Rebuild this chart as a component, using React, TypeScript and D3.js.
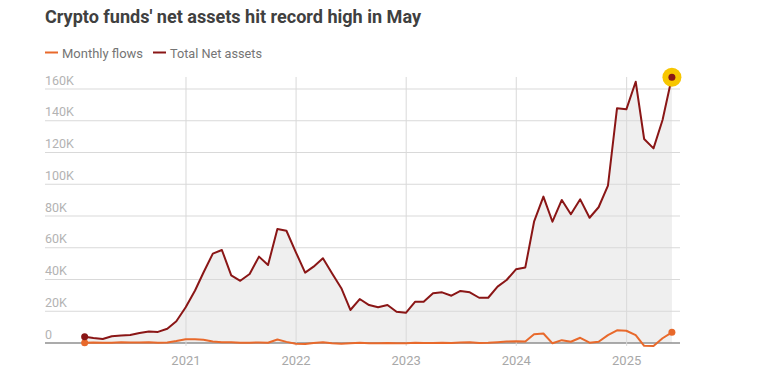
import React from "react";
import * as d3 from "d3";

// Monthly data, Jan 2020 – May 2025 (US$ millions)
const startYear = 2020;
const netAssets: number[] = [
  // 2020
  4000, 3200, 2500, 4200, 4700, 5000, 6300, 7300, 7000, 9000, 13700, 22500,
  // 2021
  33100, 44400, 56300, 58600, 42600, 39200, 43500, 54400, 49100, 71800, 70700, 57300,
  // 2022
  44300, 48100, 53400, 43900, 34500, 20800, 27700, 23900, 22500, 23900, 19700, 19000,
  // 2023
  26000, 26000, 31300, 31900, 29800, 32800, 31900, 28500, 28500, 35500, 39700, 46400,
  // 2024
  47600, 76400, 92200, 76400, 90100, 81100, 90500, 78900, 85500, 99200, 147800, 147200,
  // 2025
  164600, 128500, 122600, 140500, 167400,
];
const monthlyFlows: number[] = [
  // 2020
  200, 300, 100, 200, 400, 300, 300, 400, 200, 300, 1200, 2400,
  // 2021
  2300, 2000, 1000, 500, 400, 100, 200, 300, 200, 2200, 700, -500,
  // 2022
  -700, 0, 400, -100, -400, -200, 100, -100, -100, 0, -200, -100,
  // 2023
  100, 0, 0, 100, 0, 300, 400, 0, 100, 500, 900, 1100,
  // 2024
  1000, 5500, 6000, -200, 1800, 800, 3300, 200, 800, 5000, 8000, 7700,
  // 2025
  5000, -1800, -1900, 3000, 6700,
];
const yTicks: number[] = [0, 20000, 40000, 60000, 80000, 100000, 120000, 140000, 160000];
const xTickYears: number[] = [2021, 2022, 2023, 2024, 2025];
const seriesNames: string[] = ["Monthly flows", "Total Net assets"];
const titleText = "Crypto funds' net assets hit record high in May";

const W = 779;
const H = 383;
const FONT = "Roboto, 'Noto Sans', sans-serif";
const ORANGE = "#e8692b";
const DARKRED = "#8a1616";

type Pt = { date: Date; v: number };

export default function App() {
  const dates = netAssets.map((_, i) => new Date(Date.UTC(startYear, i + 1, 0)));
  const assets: Pt[] = netAssets.map((v, i) => ({ date: dates[i], v }));
  const flows: Pt[] = monthlyFlows.map((v, i) => ({ date: dates[i], v }));

  const x = d3
    .scaleUtc()
    .domain([new Date(Date.UTC(2020, 0, 1)), new Date(Date.UTC(2025, 5, 1))])
    .range([75.6, 672.2]);
  const y = d3.scaleLinear().domain([0, 160000]).range([343, 89]);

  const gridLeft = 45;
  const gridRight = 680;

  const line = d3
    .line<Pt>()
    .x((d) => x(d.date))
    .y((d) => y(d.v));
  const area = d3
    .area<Pt>()
    .x((d) => x(d.date))
    .y0(y(0))
    .y1((d) => y(d.v));

  const firstA = assets[0];
  const lastA = assets[assets.length - 1];
  const firstF = flows[0];
  const lastF = flows[flows.length - 1];

  const fmt = (v: number) => (v === 0 ? "0" : `${v / 1000}K`);

  return (
    <svg
      width={W}
      height={H}
      style={{ position: "absolute", left: 0, top: 0, background: "#fff" }}
      fontFamily={FONT}
    >
      <text x={45} y={23} fontSize={18} fontWeight={700} fill="#404040" textLength={376} lengthAdjust="spacingAndGlyphs">
        {titleText}
      </text>

      {/* legend */}
      <line x1={45} x2={58} y1={52.5} y2={52.5} stroke={ORANGE} strokeWidth={2} />
      <text x={62} y={57.5} fontSize={13} fill="#757575" textLength={81} lengthAdjust="spacingAndGlyphs">
        {seriesNames[0]}
      </text>
      <line x1={153} x2={166} y1={52.5} y2={52.5} stroke={DARKRED} strokeWidth={2} />
      <text x={170} y={57.5} fontSize={13} fill="#757575" textLength={92} lengthAdjust="spacingAndGlyphs">
        {seriesNames[1]}
      </text>

      {/* area */}
      <path d={area(assets) || ""} fill="#efefef" />

      {/* horizontal grid */}
      {yTicks.map((t) => (
        <g key={t}>
          <line
            x1={gridLeft}
            x2={gridRight}
            y1={y(t)}
            y2={y(t)}
            stroke={t === 0 ? "#8f8f8f" : "#d9d9d9"}
            strokeWidth={t === 0 ? 1.3 : 1}
          />
          <text x={gridLeft} y={y(t) - 4.5} fontSize={12.5} fill="#b3b3b3">
            {fmt(t)}
          </text>
        </g>
      ))}

      {/* vertical year grid */}
      {xTickYears.map((yr) => {
        const xx = x(new Date(Date.UTC(yr, 0, 1)));
        return (
          <g key={yr}>
            <line x1={xx} x2={xx} y1={77} y2={346} stroke="#d9d9d9" strokeWidth={1} />
            <text x={xx} y={365} fontSize={13} fill="#a8a8a8" textAnchor="middle">
              {yr}
            </text>
          </g>
        );
      })}

      {/* lines */}
      <path d={line(flows) || ""} fill="none" stroke={ORANGE} strokeWidth={2} strokeLinejoin="round" />
      <path d={line(assets) || ""} fill="none" stroke={DARKRED} strokeWidth={2} strokeLinejoin="round" />

      {/* markers */}
      <circle cx={x(firstF.date)} cy={y(firstF.v)} r={3.5} fill={ORANGE} />
      <circle cx={x(firstA.date)} cy={y(firstA.v)} r={3.5} fill={DARKRED} />
      <circle cx={x(lastF.date)} cy={y(lastF.v)} r={3.5} fill={ORANGE} />
      <circle cx={x(lastA.date)} cy={y(lastA.v)} r={9.5} fill="#f7c600" />
      <circle cx={x(lastA.date)} cy={y(lastA.v)} r={3.5} fill={DARKRED} />
    </svg>
  );
}
